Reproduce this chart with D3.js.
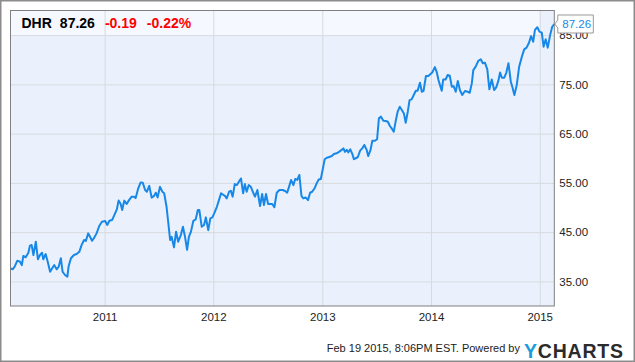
<!DOCTYPE html>
<html>
<head>
<meta charset="utf-8">
<script src="https://cdn.jsdelivr.net/npm/d3@7"></script>
<style>
body { margin: 0; background: #fff; }
svg { display: block; font-family: "Liberation Sans", Arial, sans-serif; }
</style>
</head>
<body>
<script>
const ticker = "DHR", lastPrice = 87.26, change = -0.19, changePct = -0.22;
const yearTicks = ["2011", "2012", "2013", "2014", "2015"];
const priceTicks = [35, 45, 55, 65, 75, 85];
const stamp = "Feb 19 2015, 8:06PM EST.";

// weekly-ish closes, [date, price]
const dhr2010 = [
  ["2010-02-19",37.65],["2010-02-26",37.45],["2010-03-05",38.0],["2010-03-14",39.2],["2010-03-23",39.0],
  ["2010-03-29",38.3],["2010-04-03",40.15],["2010-04-11",39.9],["2010-04-20",40.8],["2010-04-25",42.2],
  ["2010-05-01",42.4],["2010-05-07",40.35],["2010-05-15",43.05],["2010-05-22",39.5],["2010-05-29",40.35],
  ["2010-06-05",40.8],["2010-06-09",39.5],["2010-06-17",40.55],["2010-06-24",39.0],["2010-07-02",36.95],
  ["2010-07-09",37.65],["2010-07-16",38.3],["2010-07-24",37.45],["2010-07-31",38.0],["2010-08-07",39.7],
  ["2010-08-13",36.95],["2010-08-21",36.3],["2010-08-29",35.95],["2010-09-02",38.0],["2010-09-10",39.7],
  ["2010-09-20",40.35],["2010-09-29",40.55],["2010-10-08",41.0],["2010-10-16",42.4],["2010-10-24",43.4],
  ["2010-10-30",43.2],["2010-11-07",44.75],["2010-11-13",44.05],["2010-11-20",43.25],["2010-11-26",43.75],
  ["2010-12-05",44.75],["2010-12-14",46.25],["2010-12-23",47.1]
];
const dhr2011 = [
  ["2011-01-03",47.25],["2011-01-10",46.45],["2011-01-17",47.3],["2011-01-26",47.45],["2011-02-03",48.5],
  ["2011-02-11",49.6],["2011-02-17",51.4],["2011-02-24",50.7],["2011-03-01",49.5],["2011-03-08",51.4],
  ["2011-03-16",50.7],["2011-03-24",51.5],["2011-04-02",52.2],["2011-04-10",52.2],["2011-04-15",51.9],
  ["2011-04-24",53.9],["2011-05-02",55.1],["2011-05-09",55.05],["2011-05-17",53.55],["2011-05-23",53.2],
  ["2011-05-31",54.4],["2011-06-08",52.0],["2011-06-16",52.35],["2011-06-22",53.0],["2011-06-28",52.05],
  ["2011-07-06",54.2],["2011-07-14",53.2],["2011-07-20",52.9],["2011-07-28",50.15],["2011-08-03",46.8],
  ["2011-08-09",43.4],["2011-08-14",44.05],["2011-08-22",41.9],["2011-08-29",45.1],["2011-09-05",43.05],
  ["2011-09-14",44.4],["2011-09-21",46.1],["2011-09-28",44.05],["2011-10-05",41.4],["2011-10-11",44.05],
  ["2011-10-18",45.1],["2011-10-26",47.3],["2011-11-03",47.6],["2011-11-10",49.5],["2011-11-15",49.5],
  ["2011-11-23",46.1],["2011-12-01",46.45],["2011-12-07",48.0],["2011-12-15",45.4],["2011-12-22",47.8],
  ["2011-12-29",48.0]
];
const dhr2012 = [
  ["2012-01-04",48.8],["2012-01-13",50.15],["2012-01-20",51.5],["2012-01-27",52.9],["2012-02-03",52.6],
  ["2012-02-09",52.35],["2012-02-15",51.85],["2012-02-23",53.2],["2012-02-29",53.4],["2012-03-06",52.2],
  ["2012-03-13",54.75],["2012-03-20",54.55],["2012-03-27",55.25],["2012-04-03",55.9],["2012-04-10",52.9],
  ["2012-04-16",54.75],["2012-04-22",53.2],["2012-04-29",54.55],["2012-05-06",54.2],["2012-05-14",53.0],
  ["2012-05-20",52.2],["2012-05-28",53.55],["2012-06-06",50.3],["2012-06-13",52.75],["2012-06-19",50.5],
  ["2012-06-26",52.75],["2012-07-03",50.7],["2012-07-09",50.7],["2012-07-17",50.7],["2012-07-24",50.05],
  ["2012-08-01",53.0],["2012-08-10",53.55],["2012-08-21",53.55],["2012-08-29",53.35],["2012-09-05",53.0],
  ["2012-09-12",54.35],["2012-09-18",55.6],["2012-09-26",54.55],["2012-10-02",55.8],["2012-10-09",55.6],
  ["2012-10-16",56.6],["2012-10-23",52.35],["2012-10-29",51.85],["2012-11-06",52.05],["2012-11-14",51.5],
  ["2012-11-21",53.0],["2012-11-28",53.2],["2012-12-06",53.9],["2012-12-13",54.9],["2012-12-20",55.7],
  ["2012-12-27",55.8]
];
const dhr2013 = [
  ["2013-01-02",57.6],["2013-01-09",59.8],["2013-01-16",60.1],["2013-01-22",60.2],["2013-02-02",60.45],
  ["2013-02-09",60.85],["2013-02-18",61.0],["2013-02-26",61.3],["2013-03-07",61.7],["2013-03-13",62.0],
  ["2013-03-18",61.3],["2013-03-24",61.7],["2013-03-29",61.2],["2013-04-05",61.8],["2013-04-12",60.85],
  ["2013-04-17",59.8],["2013-04-23",60.0],["2013-04-30",60.2],["2013-05-08",61.55],["2013-05-15",62.0],
  ["2013-05-22",62.7],["2013-05-30",61.7],["2013-06-04",60.45],["2013-06-12",61.7],["2013-06-18",63.55],
  ["2013-06-27",63.55],["2013-07-04",63.85],["2013-07-10",68.1],["2013-07-17",68.45],["2013-07-25",67.6],
  ["2013-08-02",67.55],["2013-08-09",67.4],["2013-08-16",66.55],["2013-08-22",66.05],["2013-08-29",65.4],
  ["2013-09-04",67.4],["2013-09-11",69.45],["2013-09-18",70.45],["2013-09-25",69.8],["2013-10-02",69.1],
  ["2013-10-08",67.2],["2013-10-15",69.45],["2013-10-21",71.8],["2013-10-28",71.95],["2013-11-04",72.85],
  ["2013-11-11",73.7],["2013-11-17",73.7],["2013-11-25",75.35],["2013-12-01",73.5],["2013-12-07",73.7],
  ["2013-12-15",76.7],["2013-12-23",76.7]
];
const dhr2014 = [
  ["2014-01-05",77.4],["2014-01-14",78.5],["2014-01-20",77.55],["2014-01-26",75.9],["2014-01-31",74.9],
  ["2014-02-06",73.7],["2014-02-11",76.0],["2014-02-19",76.0],["2014-02-26",76.9],["2014-03-05",76.75],
  ["2014-03-12",74.5],["2014-03-18",74.65],["2014-03-25",73.5],["2014-04-01",75.7],["2014-04-08",73.85],
  ["2014-04-16",72.85],["2014-04-25",73.65],["2014-05-04",73.5],["2014-05-11",73.3],["2014-05-18",75.2],
  ["2014-05-23",77.9],["2014-05-31",78.6],["2014-06-09",79.8],["2014-06-17",80.1],["2014-06-24",79.3],
  ["2014-07-01",79.4],["2014-07-09",78.05],["2014-07-16",74.0],["2014-07-24",76.0],["2014-08-01",73.85],
  ["2014-08-08",74.4],["2014-08-15",75.7],["2014-08-21",77.4],["2014-08-27",76.35],["2014-09-04",76.35],
  ["2014-09-11",77.4],["2014-09-18",79.3],["2014-09-26",75.55],["2014-10-01",74.5],["2014-10-08",72.85],
  ["2014-10-16",74.9],["2014-10-24",78.6],["2014-11-02",80.6],["2014-11-10",82.1],["2014-11-18",82.45],
  ["2014-11-26",83.45],["2014-12-03",84.8],["2014-12-10",83.65],["2014-12-16",86.05],["2014-12-24",86.6],
  ["2014-12-31",85.7]
];
const dhr2015 = [
  ["2015-01-08",85.5],["2015-01-14",82.65],["2015-01-21",84.15],["2015-01-28",82.45],["2015-02-05",85.0],
  ["2015-02-12",86.7],["2015-02-19",87.26]
];

let width = 635, height = 362;
let plot = {left: 10.5, top: 10.5, right: 554.3, bottom: 306};

const parse = d3.timeParse("%Y-%m-%d");
let data = [].concat(dhr2010, dhr2011, dhr2012, dhr2013, dhr2014, dhr2015)
    .map(d => ({date: parse(d[0]), value: d[1]}));

let svg = d3.select("body")
    .append("svg")
    .attr("width", width)
    .attr("height", height);

let x = d3.scaleTime()
    .domain(d3.extent(data, d => d.date))
    .range([plot.left, plot.right]);

let y = d3.scaleLinear()
    .domain([30, 90])
    .range([plot.bottom, plot.top]);

// outer frame
svg.append("rect")
    .attr("x", 0.75).attr("y", 0.75)
    .attr("width", width - 1.5).attr("height", height - 1.5)
    .attr("fill", "#fff")
    .attr("stroke", "#8c8c8c")
    .attr("stroke-width", 1.5);

svg.append("rect")
    .attr("x", plot.left).attr("y", plot.top)
    .attr("width", plot.right - plot.left)
    .attr("height", plot.bottom - plot.top)
    .attr("fill", "#eaf1fc");

// header strip
svg.append("rect")
    .attr("x", plot.left).attr("y", plot.top)
    .attr("width", 529).attr("height", 24.5)
    .attr("fill", "#f5f8fe");

const xAxis = d3.axisBottom(x)
    .tickValues(yearTicks.map(t => parse(t + "-01-01")))
    .tickFormat(d3.timeFormat("%Y"))
    .tickSize(-(plot.bottom - plot.top))
    .tickPadding(7);

const yAxis = d3.axisRight(y)
    .tickValues(priceTicks)
    .tickFormat(d3.format(".2f"))
    .tickSize(-(plot.right - plot.left))
    .tickPadding(5);

let gx = svg.append("g")
    .attr("transform", `translate(0, ${plot.bottom})`)
    .call(xAxis);

let gy = svg.append("g")
    .attr("transform", `translate(${plot.right}, 0)`)
    .call(yAxis);

[gx, gy].forEach(g => {
    g.select(".domain").remove();
    g.selectAll(".tick line").attr("stroke", "#d8dadf");
    g.selectAll(".tick text")
        .attr("fill", "#222")
        .style("font-family", "Liberation Sans, Arial, sans-serif")
        .style("font-size", "11.5px");
});

svg.append("path")
    .datum(data)
    .attr("fill", "none")
    .attr("stroke", "#1788e8")
    .attr("stroke-width", 2)
    .attr("stroke-linejoin", "round")
    .attr("d", d3.line().x(d => x(d.date)).y(d => y(d.value)));

svg.append("rect")
    .attr("x", plot.left).attr("y", plot.top)
    .attr("width", plot.right - plot.left)
    .attr("height", plot.bottom - plot.top)
    .attr("fill", "none")
    .attr("stroke", "#808080");

// last price flag
let flag = svg.append("g")
    .attr("transform", `translate(${x(data[data.length - 1].date)}, ${y(lastPrice)})`);

flag.append("path")
    .attr("d", "M0.5,0 L3.5,-4 L3.5,-9 L39,-9 L39,9 L3.5,9 L3.5,4 Z")
    .attr("fill", "#fff")
    .attr("stroke", "#999");

flag.append("text")
    .attr("x", 8).attr("y", 4.5)
    .attr("fill", "#1788e8")
    .style("font-size", "11.5px")
    .text(lastPrice.toFixed(2));

// header text
let head = svg.append("text")
    .attr("x", 21.5).attr("y", 28.3)
    .style("font-size", "14px")
    .style("font-weight", "bold");

head.append("tspan").attr("fill", "#000").text(ticker);
head.append("tspan").attr("fill", "#000").attr("dx", 8).text(lastPrice.toFixed(2));
head.append("tspan").attr("fill", "#f00").attr("dx", 10).text(change.toFixed(2));
head.append("tspan").attr("fill", "#f00").attr("dx", 10).text(changePct.toFixed(2) + "%");

// footer
svg.append("text")
    .attr("x", 520).attr("y", 352)
    .attr("text-anchor", "end")
    .attr("fill", "#222")
    .style("font-size", "11px")
    .text(stamp + "  Powered by");

let logo = svg.append("text")
    .attr("x", 524).attr("y", 357.5)
    .attr("textLength", 99)
    .attr("lengthAdjust", "spacing")
    .style("font-size", "19.5px")
    .style("font-weight", "bold");

logo.append("tspan").attr("fill", "#1a9bdb").text("Y");
logo.append("tspan").attr("fill", "#2b2b2b").text("CHARTS");
</script>
</body>
</html>
